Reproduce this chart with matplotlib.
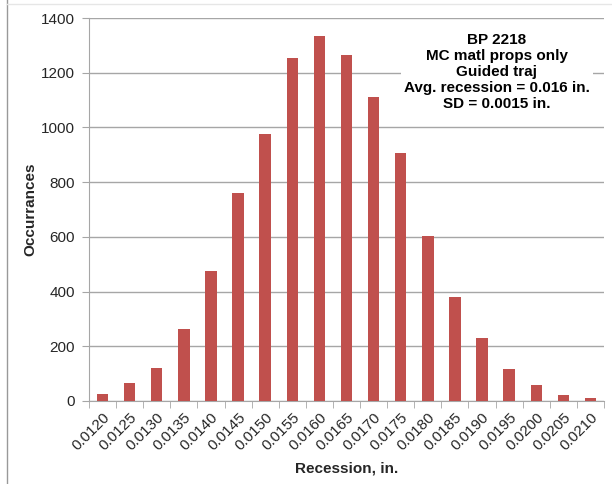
import numpy as np
import matplotlib.pyplot as plt
from matplotlib.lines import Line2D

plt.rcParams['font.family'] = ['Liberation Sans', 'DejaVu Sans']

# recession bins (in.) and counts
recession = ["0.0120", "0.0125", "0.0130", "0.0135", "0.0140", "0.0145", "0.0150",
             "0.0155", "0.0160", "0.0165", "0.0170", "0.0175", "0.0180", "0.0185",
             "0.0190", "0.0195", "0.0200", "0.0205", "0.0210"]
occurrances = [26, 66, 121, 264, 474, 762, 977, 1252, 1333, 1264, 1112, 907, 603, 381,
               231, 118, 59, 23, 11]
y_ticks = [0, 200, 400, 600, 800, 1000, 1200, 1400]

note = "BP 2218\nMC matl props only\nGuided traj\nAvg. recession = 0.016 in.\nSD = 0.0015 in."

bar_color = "#C0504D"
grid_color = "#A6A6A6"
text_color = "#262626"
fs = 11

fig = plt.figure(figsize=(6.12, 4.84), dpi=100)
ax = fig.add_axes([89 / 612, 83 / 484, 515 / 612, 383 / 484])

x = np.arange(len(recession))
ax.bar(x, occurrances, width=0.42, color=bar_color, zorder=3)

ax.set_xlim(-0.5, len(recession) - 0.5)
ax.set_ylim(0, 1400)
ax.set_yticks(y_ticks)
ax.set_yticklabels([str(v) for v in y_ticks], fontsize=fs, color=text_color)
ax.yaxis.grid(True, color=grid_color, linewidth=1.0, zorder=0)

ax.set_xticks(x)
ax.set_xticklabels(recession, rotation=45, ha='right', rotation_mode='anchor',
                   fontsize=fs, color=text_color)
ax.tick_params(axis='x', which='major', length=0, pad=7)
ax.set_xticks(np.arange(len(recession) + 1) - 0.5, minor=True)
ax.tick_params(axis='x', which='minor', length=5, color=grid_color, direction='out')
ax.tick_params(axis='y', length=5, color=grid_color, direction='out', pad=5)

for side in ['top', 'right']:
    ax.spines[side].set_visible(False)
for side in ['left', 'bottom']:
    ax.spines[side].set_color(grid_color)

ax.set_xlabel("Recession, in.", fontsize=fs, fontweight='bold', color=text_color, labelpad=6)
ax.set_ylabel("Occurrances", fontsize=fs, fontweight='bold', color=text_color, labelpad=3)

fig.text(497 / 612, 1 - 72 / 484, note, ha='center', va='center', fontsize=fs,
         fontweight='bold', color='black', linespacing=1.2,
         bbox=dict(boxstyle='square,pad=0.2', facecolor='white', edgecolor='none'))

# chart frame edge on the left
fig.add_artist(Line2D([7 / 612, 7 / 612], [0, 1], color='#999999', linewidth=1.0))
fig.add_artist(Line2D([7 / 612, 1], [1 - 4 / 484, 1 - 4 / 484], color='#E6E6E6', linewidth=1.0))

fig.savefig("out.png", dpi=100)
